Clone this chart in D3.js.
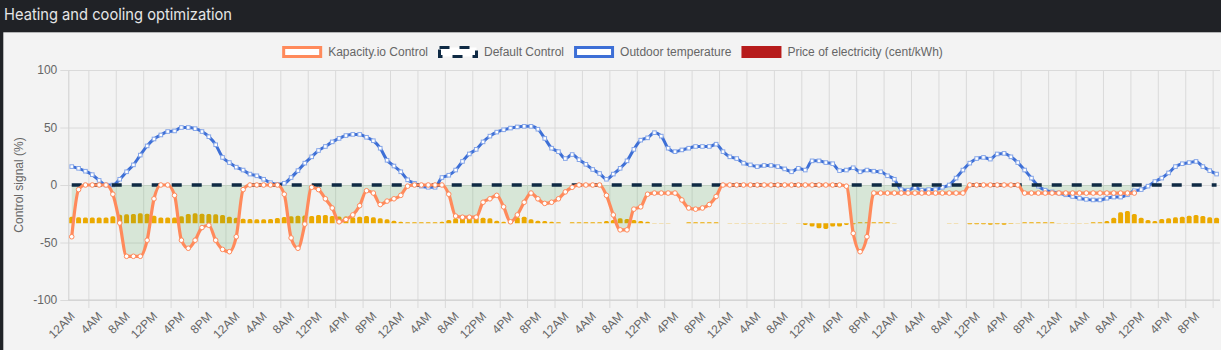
<!DOCTYPE html>
<html>
<head>
<meta charset="utf-8">
<script src="https://cdn.jsdelivr.net/npm/d3@7"></script>
<style>
  html, body { margin: 0; padding: 0; background: #202226; }
  svg { display: block; }
  text { font-family: "Liberation Sans", Arial, sans-serif; }
</style>
</head>
<body>
<svg id="chart" width="1221" height="350"></svg>
<script>
// hour names, repeated for every day of the week
var hourNames = ["12AM", "1AM", "2AM", "3AM", "4AM", "5AM", "6AM", "7AM", "8AM", "9AM", "10AM", "11AM",
  "12PM", "1PM", "2PM", "3PM", "4PM", "5PM", "6PM", "7PM", "8PM", "9PM", "10PM", "11PM"];
var dayCount = 7;

// control signal of kapacity.io (%), ends before the last day is over
var kapacityControl = [
  -45, -4, 0, 0, 0, 0, -8, -33, -62, -62, -62, -48, -12, 0, 0, -9, -48, -55, -48, -37, -35, -48, -56, -58,
  -45, -4, 0, 0, 0, 0, 0, -8, -46, -55, -34, -2, -4, -12, -20, -32, -30, -26, -18, -5, -7, -17, -14, -12,
  -9, -1, 0, 0, 0, 0, 0, -8, -27, -28, -28, -28, -15, -12, -9, -19, -32, -26, -15, -7, -12, -16, -15, -12,
  -6, -2, 0, 0, 0, 0, -9, -26, -39, -39, -21, -19, -8, -7, -7, -7, -7, -13, -20, -21, -20, -17, -10, 0,
  0, 0, 0, 0, 0, 0, 0, 0, 0, 0, 0, 0, 0, 0, 0, 0, 0, -1, -42, -58, -45, -7, -7, -7,
  -7, -7, -7, -7, -7, -7, -7, -7, -7, -7, -7, 0, 0, 0, 0, 0, 0, 0, 0, -7, -7, -7, -7, -7,
  -7, -7, -7, -7, -7, -7, -7, -7, -7, -7, -7, -7, null, null, null, null, null, null, null, null, null, null, null, null
];

// default control signal (%)
var defaultControl = [
  0, 0, 0, 0, 0, 0, 0, 0, 0, 0, 0, 0, 0, 0, 0, 0, 0, 0, 0, 0, 0, 0, 0, 0,
  0, 0, 0, 0, 0, 0, 0, 0, 0, 0, 0, 0, 0, 0, 0, 0, 0, 0, 0, 0, 0, 0, 0, 0,
  0, 0, 0, 0, 0, 0, 0, 0, 0, 0, 0, 0, 0, 0, 0, 0, 0, 0, 0, 0, 0, 0, 0, 0,
  0, 0, 0, 0, 0, 0, 0, 0, 0, 0, 0, 0, 0, 0, 0, 0, 0, 0, 0, 0, 0, 0, 0, 0,
  0, 0, 0, 0, 0, 0, 0, 0, 0, 0, 0, 0, 0, 0, 0, 0, 0, 0, 0, 0, 0, 0, 0, 0,
  0, 0, 0, 0, 0, 0, 0, 0, 0, 0, 0, 0, 0, 0, 0, 0, 0, 0, 0, 0, 0, 0, 0, 0,
  0, 0, 0, 0, 0, 0, 0, 0, 0, 0, 0, 0, 0, 0, 0, 0, 0, 0, 0, 0, 0, 0, 0, 0
];

// outdoor temperature, drawn on the same axis
var outdoorTemperature = [
  16, 14.5, 12, 9, 4, 0, 0, 5, 11.5, 17.5, 26, 34, 40, 43.5, 46.5, 47, 50, 50, 49, 46.5, 42, 35, 24, 19.5,
  15.5, 13, 9.5, 8, 5, 2, 0.5, 1.5, 6.5, 12.5, 19, 24.5, 30, 33.5, 37.5, 40.5, 43, 44, 44, 41.5, 38.5, 32, 21.5, 16.5,
  11.5, 4.5, 1.5, -1, -2, -2, 6.5, 8.5, 13, 20.5, 27, 31, 37.5, 42.5, 46, 48, 49.5, 50.5, 51, 51, 48.5, 40.5, 32, 29,
  23, 26.5, 22, 18, 13.5, 10, 5, 9.5, 14.5, 21, 31, 39, 41, 45.5, 42.5, 32, 29, 30.5, 32, 33.5, 33.5, 33.5, 35.5, 29,
  24.5, 23, 19, 17.5, 16, 17, 17, 16, 14, 11.5, 14.5, 13, 21, 21, 19.5, 18.5, 12.5, 13, 15, 11.5, 13, 12, 11.5, 8,
  5, -4, -4.5, -2, -4.5, -4, -4, -2, 0, 6, 13, 19, 23, 24, 22.5, 27, 27.5, 24.5, 19.5, 13, 6, -1, -4.5, -6,
  -7, -8.5, -10, -11.5, -12.5, -13, -13, -11.5, -10.5, -10.5, -8.5, -5, -4, -1, 3, 6, 10.5, 16, 18.5, 19.5, 20.5, 16, 12.5, 9.5
];

// price of electricity (cent/kWh), own hidden axis
var electricityPrice = [
  13.2, 12, 11.6, 11.6, 11.6, 11.6, 14, 17, 18, 18.8, 20, 19.2, 15, 11.6, 11.6, 11.6, 14, 18.8, 20, 19.2, 18.4, 18, 16.6, 13.2,
  11.2, 9, 8.4, 8, 8, 8.6, 10.6, 12.6, 14, 15, 15.4, 14.6, 16.6, 16.6, 14.6, 13.4, 13.4, 12, 13.2, 14.6, 12, 10, 8, 5.2,
  3.2, 2, 2, 2, 2, 2, 3.2, 6.6, 10, 11.2, 13.2, 12, 11.2, 10, 5.2, 3.2, 6.6, 12, 13.2, 8, 5.2, 4.6, 3.2, 2,
  0, 2, 2, 2, 2, 2, 4.6, 6.6, 10, 8.6, 6.6, 4.6, 3.2, 0.8, 0.8, 0.8, 0, 0, 2, 2, 2, 2, 2, 0,
  0.8, 0.8, 0.8, 0.8, 0.8, 0.8, 0.8, 0.8, 0.8, 0, 0.8, -3.2, -6.6, -10, -11.2, -6.6, -6.6, -3.2, -2, 2, 2, 2, 2, 2,
  0.8, 0, 0, 0, 0, 0, 0, 0, 0.8, 0.8, 0, -2, -2, -2, -3, -2, -3, -1, 0.8, 2, 2, 2, 2, 2,
  0.8, 0.8, 0.8, 0.8, 0.8, 2, 2, 4.6, 11.2, 22, 24.6, 18.6, 11.2, 6.6, 4.6, 8.6, 10, 12, 13.2, 15.2, 16.6, 14.6, 12, 11.2
];

var yTicks = [-100, -50, 0, 50, 100];

var legendItems = [
  { name: "Kapacity.io Control", kind: "kapacity" },
  { name: "Default Control", kind: "default" },
  { name: "Outdoor temperature", kind: "temp" },
  { name: "Price of electricity (cent/kWh)", kind: "price" }
];

var colors = {
  kapacity: "#ff8a5b",
  fill: "rgba(60,160,60,0.15)",
  navy: "#0f2a44",
  temp: "#3d6fd6",
  tempPoint: "#86a6e8",
  bar: "#eba900",
  priceLegend: "#b71c1c",
  grid: "#dadada",
  text: "#666"
};

var labels = [];
for (var d = 0; d < dayCount; d++) labels = labels.concat(hourNames);
var idx = d3.range(labels.length);

var svg = d3.select("#chart");

// card and header
svg.append("rect").attr("x", 3.3).attr("y", 32.3).attr("width", 1221).attr("height", 350).attr("fill", "#f3f3f3");
svg.append("text")
  .attr("x", 4).attr("y", 19.5)
  .attr("fill", "#e6e6e6")
  .style("font-family", "Inter, 'Open Sans', sans-serif")
  .style("font-size", "16.5px")
  .attr("textLength", 228).attr("lengthAdjust", "spacingAndGlyphs")
  .text("Heating and cooling optimization");

// scales
var xScale = d3.scaleBand().domain(idx).range([68.3, 1220]).padding(0);
var xc = function (i) { return xScale(i) + xScale.bandwidth() / 2; };
var yScale = d3.scaleLinear().domain([-100, 100]).range([300, 70]);
var priceZero = yScale(-33.3);
var yPrice = d3.scaleLinear().domain([0, 25]).range([priceZero, priceZero - 12.5]);

// grid lines, vertical ones sit between the shown ticks
var gridIdx = idx.filter(function (i) { return i % 4 == 2; });
svg.append("g")
  .attr("transform", "translate(0,308)")
  .call(d3.axisBottom(xScale).tickValues(gridIdx).tickSize(-238).tickSizeOuter(0).tickFormat(""))
  .call(function (g) { g.select(".domain").remove(); })
  .selectAll("line").attr("stroke", colors.grid).attr("transform", "translate(" + (xScale.bandwidth() / 2) + ",0)");

svg.append("g")
  .attr("transform", "translate(68.3,0)")
  .call(d3.axisRight(yScale).tickValues(yTicks).tickSize(1151.7).tickFormat(""))
  .call(function (g) { g.select(".domain").remove(); })
  .selectAll("line").attr("stroke", colors.grid);

// y axis with labels (plain hyphen for minus, as in the original)
var yAxis = svg.append("g")
  .attr("transform", "translate(68.3,0)")
  .call(d3.axisLeft(yScale).tickValues(yTicks).tickSize(8).tickPadding(3).tickSizeOuter(0)
    .tickFormat(function (v) { return String(v); }));
yAxis.select(".domain").attr("stroke", "#cfcfcf");
yAxis.selectAll("line").attr("stroke", colors.grid);
yAxis.selectAll("text").attr("fill", colors.text).style("font-size", "12px")
  .style("font-family", "'Liberation Sans', Arial, sans-serif");

svg.append("line")
  .attr("x1", 68.3).attr("x2", 1220).attr("y1", yScale(-100)).attr("y2", yScale(-100))
  .attr("stroke", "#cfcfcf");

svg.append("text")
  .attr("transform", "translate(23," + yScale(0) + ") rotate(-90)")
  .attr("text-anchor", "middle")
  .attr("fill", colors.text)
  .style("font-size", "12px")
  .text("Control signal (%)");

// x labels, every 4th hour
var labelIdx = idx.filter(function (i) { return i % 4 == 0; });
var xAxis = svg.append("g")
  .attr("transform", "translate(0,308)")
  .call(d3.axisBottom(xScale).tickValues(labelIdx).tickSize(0).tickFormat(function (i) { return labels[i]; }));
xAxis.select(".domain").remove();
xAxis.selectAll("text")
  .attr("fill", colors.text)
  .style("font-size", "12px")
  .style("font-family", "'Liberation Sans', Arial, sans-serif")
  .attr("text-anchor", "end")
  .attr("y", 0).attr("dy", "0.35em")
  .attr("transform", "translate(1,6) rotate(-45)");

// price bars, rounded at the top
var barW = xScale.bandwidth() * 0.72;
function barPath(d, i) {
  var x0 = xc(i) - barW / 2, x1 = x0 + barW;
  var y0 = yPrice(0), y1 = yPrice(d);
  var h = Math.abs(y1 - y0);
  if (h == 0) return "";
  var r = Math.min(1.6, h, barW / 2);
  var s = y1 < y0 ? 1 : -1;
  return "M" + x0 + "," + y0 +
    "L" + x0 + "," + (y1 + s * r) +
    "Q" + x0 + "," + y1 + " " + (x0 + r) + "," + y1 +
    "L" + (x1 - r) + "," + y1 +
    "Q" + x1 + "," + y1 + " " + x1 + "," + (y1 + s * r) +
    "L" + x1 + "," + y0 + "Z";
}
svg.append("g").selectAll("path")
  .data(electricityPrice)
  .join("path")
  .attr("d", barPath)
  .attr("fill", colors.bar);

var curve = d3.curveMonotoneX;

// green area between kapacity and default control
var area = d3.area()
  .defined(function (d) { return d != null; })
  .x(function (d, i) { return xc(i); })
  .y0(yScale(0))
  .y1(function (d) { return yScale(d); })
  .curve(curve);
svg.append("path").datum(kapacityControl).attr("d", area).attr("fill", colors.fill);

// outdoor temperature
var line = d3.line()
  .defined(function (d) { return d != null; })
  .x(function (d, i) { return xc(i); })
  .y(function (d) { return yScale(d); })
  .curve(curve);

svg.append("path").datum(outdoorTemperature).attr("d", line)
  .attr("fill", "none").attr("stroke", colors.temp).attr("stroke-width", 3);
svg.append("g").selectAll("rect")
  .data(outdoorTemperature)
  .join("rect")
  .attr("x", function (d, i) { return xc(i) - 1.8; })
  .attr("y", function (d) { return yScale(d) - 1.8; })
  .attr("width", 3.6).attr("height", 3.6)
  .attr("fill", "#fff")
  .attr("stroke", colors.tempPoint).attr("stroke-width", 1);

// default control, dashed
svg.append("path").datum(defaultControl)
  .attr("d", d3.line().x(function (d, i) { return xc(i); }).y(function (d) { return yScale(d); }))
  .attr("fill", "none").attr("stroke", colors.navy).attr("stroke-width", 3.5)
  .attr("stroke-dasharray", "10,10");

// kapacity control
svg.append("path").datum(kapacityControl).attr("d", line)
  .attr("fill", "none").attr("stroke", colors.kapacity).attr("stroke-width", 3.2);
svg.append("g").selectAll("circle")
  .data(kapacityControl.map(function (v, i) { return { v: v, i: i }; }).filter(function (p) { return p.v != null; }))
  .join("circle")
  .attr("cx", function (p) { return xc(p.i); })
  .attr("cy", function (p) { return yScale(p.v); })
  .attr("r", 2.3)
  .attr("fill", "#fff")
  .attr("stroke", colors.kapacity).attr("stroke-width", 1);

// legend, centred like chart.js does it
var legend = svg.append("g");
var items = legend.selectAll("g").data(legendItems).join("g");
items.append("text")
  .attr("x", 46).attr("y", 6).attr("dy", "0.35em")
  .attr("fill", colors.text)
  .style("font-size", "12px")
  .text(function (d) { return d.name; });
var widths = [];
items.each(function () { widths.push(d3.select(this).select("text").node().getComputedTextLength() + 46); });
var total = d3.sum(widths) + 10 * (widths.length - 1);
var pos = 612.5 - total / 2;
items.attr("transform", function (d, i) {
  var t = "translate(" + pos + ",46)";
  pos += widths[i] + 10;
  return t;
});
items.insert("rect", "text")
  .attr("x", 1.5).attr("y", 1.5).attr("width", 37).attr("height", 9)
  .attr("fill", function (d) { return d.kind == "price" ? colors.priceLegend : "#fff"; })
  .attr("stroke", function (d) {
    if (d.kind == "kapacity") return colors.kapacity;
    if (d.kind == "default") return colors.navy;
    if (d.kind == "temp") return colors.temp;
    return colors.priceLegend;
  })
  .attr("stroke-width", 3)
  .attr("stroke-dasharray", function (d) { return d.kind == "default" ? "10,10" : null; });
</script>
</body>
</html>
